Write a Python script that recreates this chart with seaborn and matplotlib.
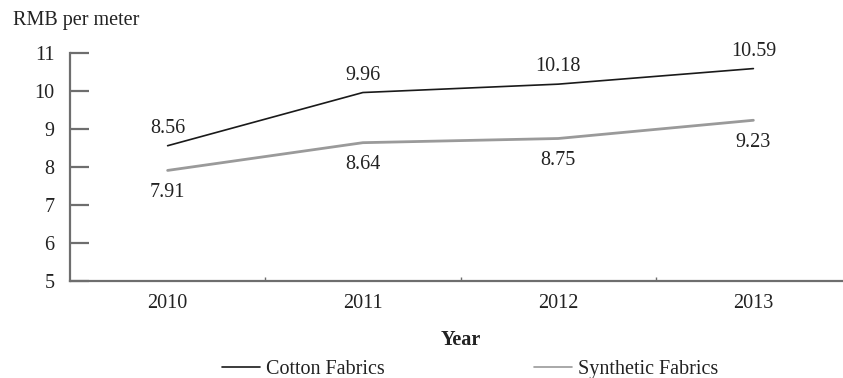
import matplotlib
matplotlib.use("Agg")
import matplotlib.pyplot as plt
import seaborn as sns
import pandas as pd
from matplotlib.ticker import FixedLocator

# Average fabric prices, RMB per meter
years = ["2010", "2011", "2012", "2013"]
cotton = [8.56, 9.96, 10.18, 10.59]
synthetic = [7.91, 8.64, 8.75, 9.23]
series_names = ["Cotton Fabrics", "Synthetic Fabrics"]
y_ticks = [5, 6, 7, 8, 9, 10, 11]

FS = 14.5

sns.set_style("white")
plt.rcParams["font.family"] = ["Liberation Serif", "DejaVu Serif"]
plt.rcParams["font.size"] = FS

df = pd.DataFrame({
    "Year": years * 2,
    "Price": cotton + synthetic,
    "Series": [series_names[0]] * len(years) + [series_names[1]] * len(years),
})

fig = plt.figure(figsize=(8.43, 3.78), dpi=100)
ax = fig.add_axes([70 / 843, 1 - 281 / 378, 781 / 843, (281 - 53) / 378])

palette = {series_names[0]: "#1a1a1a", series_names[1]: "#9a9a9a"}
sns.lineplot(data=df, x="Year", y="Price", hue="Series", palette=palette,
             ax=ax, legend=False, sort=False)
lines = ax.get_lines()
lines[0].set_linewidth(1.2)
lines[1].set_linewidth(2.0)

# value labels: cotton above, synthetic below
for i, v in enumerate(cotton):
    ax.annotate(f"{v:.2f}", (i, v), xytext=(0, 12.5), textcoords="offset points",
                ha="center", va="center", fontsize=FS, color="#222222")
for i, v in enumerate(synthetic):
    ax.annotate(f"{v:.2f}", (i, v), xytext=(0, -16), textcoords="offset points",
                ha="center", va="center", fontsize=FS, color="#222222")

ax.set_xlim(-0.5, 3.5)
ax.set_ylim(5, 11)
ax.set_yticks(y_ticks)
ax.set_xticks(range(len(years)))
ax.set_xticklabels(years)
ax.xaxis.set_minor_locator(FixedLocator([0.5, 1.5, 2.5]))

spine_color = "#6e6e6e"
for side in ["top", "right"]:
    ax.spines[side].set_visible(False)
for side in ["left", "bottom"]:
    ax.spines[side].set_color(spine_color)
    ax.spines[side].set_linewidth(1.6)

ax.tick_params(axis="y", direction="in", length=14, width=1.6, color=spine_color,
               pad=11, labelsize=FS, labelcolor="#222222", left=True)
ax.tick_params(axis="x", which="major", length=0, pad=9.5, labelsize=FS,
               labelcolor="#222222")
ax.tick_params(axis="x", which="minor", direction="in", length=3, width=1,
               color=spine_color, bottom=True)

ax.set_xlabel("Year", fontweight="bold", fontsize=FS, labelpad=12, color="#222222")
ax.set_ylabel("")
fig.text(13 / 843, 1 - 21 / 378, "RMB per meter", ha="left", va="center",
         fontsize=FS, color="#222222")

handles = [plt.Line2D([], [], color=palette[n], lw=1.2) for n in series_names]
fig.legend(handles, series_names, loc="center", bbox_to_anchor=(470 / 843, 1 - 369 / 378),
           ncol=2, frameon=False, fontsize=FS, handlelength=1.9, handletextpad=0.3,
           columnspacing=7.4, borderpad=0, labelcolor="#222222")

fig.savefig("out.png", dpi=100)
